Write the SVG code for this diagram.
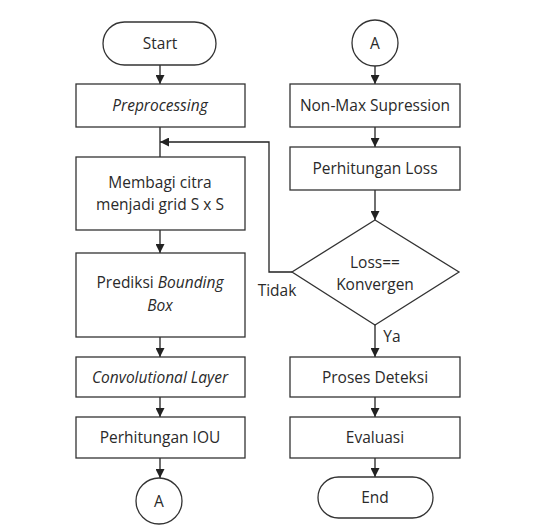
<svg xmlns="http://www.w3.org/2000/svg" width="553" height="527" viewBox="0 0 553 527">
<defs>
<marker id="ah" viewBox="0 0 10 10" refX="10" refY="5" markerWidth="9" markerHeight="9" markerUnits="userSpaceOnUse" orient="auto">
<path d="M0,0 L10,5 L0,10 z" fill="#222"/>
</marker>
<style>
.s{fill:#fff;stroke:#333;stroke-width:1.3}
.t{font-family:"Open Sans","Liberation Sans",sans-serif;font-size:15.5px;fill:#2a2a2a;text-anchor:middle}
.i{font-style:italic}
.c{fill:none;stroke:#222;stroke-width:1.3}
</style>
</defs>
<rect width="553" height="527" fill="#fff"/>
<g id="connectors">
<path class="c" d="M160,65 V84" marker-end="url(#ah)"/>
<path class="c" d="M160,127 V157"/>
<path class="c" d="M292,272 H269 V142 H160" marker-end="url(#ah)"/>
<path class="c" d="M160,230 V253" marker-end="url(#ah)"/>
<path class="c" d="M160,337 V357" marker-end="url(#ah)"/>
<path class="c" d="M160,397 V417" marker-end="url(#ah)"/>
<path class="c" d="M160,458 V478" marker-end="url(#ah)"/>
<path class="c" d="M375,66 V84" marker-end="url(#ah)"/>
<path class="c" d="M375,127 V147" marker-end="url(#ah)"/>
<path class="c" d="M375,190 V220" marker-end="url(#ah)"/>
<path class="c" d="M375,325 V357" marker-end="url(#ah)"/>
<path class="c" d="M375,397 V417" marker-end="url(#ah)"/>
<path class="c" d="M375,458 V477" marker-end="url(#ah)"/>
<text class="t" x="277" y="296">Tidak</text>
<text class="t" x="392" y="342">Ya</text>
</g>
<g id="start"><rect class="s" x="103" y="22" width="113" height="43" rx="21.5"/><text class="t" x="160" y="49">Start</text></g>
<g id="preprocessing"><rect class="s" x="76" y="84" width="169" height="43"/><text class="t i" x="160" y="111">Preprocessing</text></g>
<g id="membagi"><rect class="s" x="76" y="157" width="169" height="73"/><text class="t" x="160" y="188">Membagi citra</text><text class="t" x="160" y="210">menjadi grid S x S</text></g>
<g id="prediksi"><rect class="s" x="76" y="253" width="169" height="84"/><text class="t" x="160" y="288">Prediksi <tspan class="i">Bounding</tspan></text><text class="t i" x="160" y="311">Box</text></g>
<g id="conv"><rect class="s" x="76" y="357" width="169" height="40"/><text class="t i" x="160" y="383">Convolutional Layer</text></g>
<g id="iou"><rect class="s" x="76" y="417" width="169" height="41"/><text class="t" x="160" y="443">Perhitungan IOU</text></g>
<g id="a1"><circle class="s" cx="159" cy="501" r="23"/><text class="t" x="159" y="507">A</text></g>
<g id="a2"><circle class="s" cx="375" cy="43" r="23"/><text class="t" x="375" y="49">A</text></g>
<g id="nms"><rect class="s" x="290" y="84" width="170" height="43"/><text class="t" x="375" y="111">Non-Max Supression</text></g>
<g id="loss"><rect class="s" x="290" y="147" width="170" height="43"/><text class="t" x="375" y="174">Perhitungan Loss</text></g>
<g id="decision"><polygon class="s" points="375,220 459,272 375,325 292,272"/><text class="t" x="375" y="268">Loss==</text><text class="t" x="375" y="290">Konvergen</text></g>
<g id="deteksi"><rect class="s" x="290" y="357" width="170" height="40"/><text class="t" x="375" y="383">Proses Deteksi</text></g>
<g id="evaluasi"><rect class="s" x="290" y="417" width="170" height="41"/><text class="t" x="375" y="443">Evaluasi</text></g>
<g id="end"><rect class="s" x="318" y="477" width="115" height="41" rx="20.5"/><text class="t" x="375" y="503">End</text></g>
</svg>
